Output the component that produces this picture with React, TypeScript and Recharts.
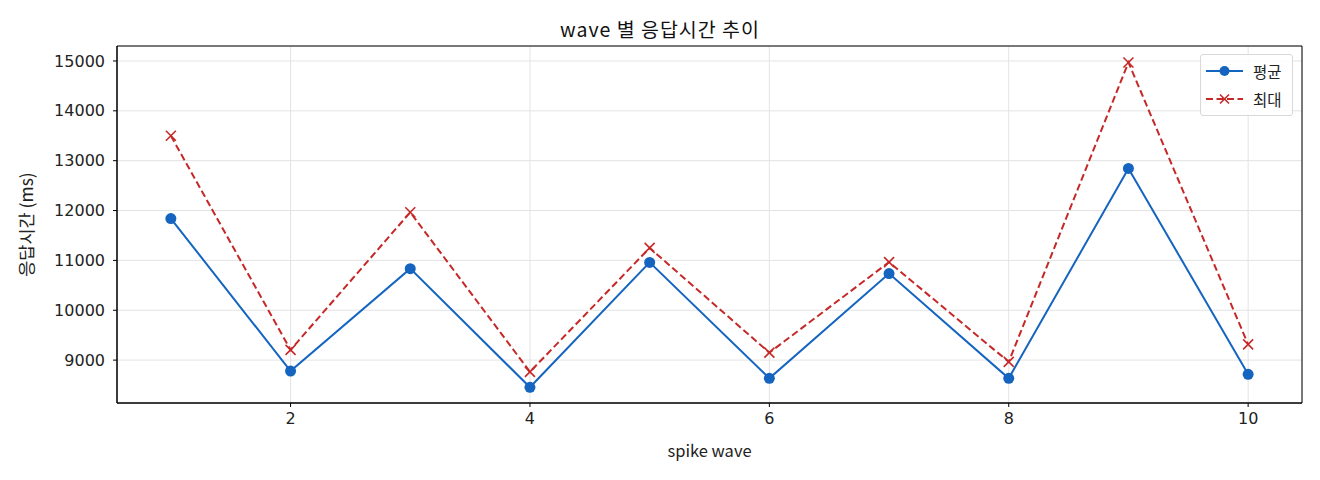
import {
  CartesianGrid,
  Line,
  LineChart,
  ReferenceArea,
  XAxis,
  YAxis,
} from "recharts";

const waves = [1, 2, 3, 4, 5, 6, 7, 8, 9, 10];
const avgMs = [11840, 8780, 10835, 8455, 10960, 8635, 10735, 8635, 12845, 8715];
const maxMs = [13500, 9205, 11965, 8765, 11250, 9150, 10965, 8965, 14970, 9315];
const xTicks = [2, 4, 6, 8, 10];
const yTicks = [9000, 10000, 11000, 12000, 13000, 14000, 15000];

const data = waves.map((w, i) => ({ wave: w, avg: avgMs[i], max: maxMs[i] }));

const FONT = "'Noto Sans CJK KR', 'Noto Sans', sans-serif";
const TICK_FONT = "'DejaVu Sans', 'Noto Sans CJK KR', sans-serif";
const BLUE = "#1565C0";
const RED = "#C62828";

if (typeof document !== "undefined") document.body.style.margin = "0";

const CrossDot = (props: any) => {
  const { cx, cy, key } = props;
  if (cx == null || cy == null) return null;
  const s = 5;
  return (
    <g key={key}>
      <line x1={cx - s} y1={cy - s} x2={cx + s} y2={cy + s} stroke={RED} strokeWidth={1.6} />
      <line x1={cx - s} y1={cy + s} x2={cx + s} y2={cy - s} stroke={RED} strokeWidth={1.6} />
    </g>
  );
};

// legend drawn as an overlay so it doesn't eat into the plot area
const LegendBox = () => (
  <div
    style={{
      position: "absolute",
      left: 1200,
      top: 54,
      width: 93,
      height: 62,
      boxSizing: "border-box",
      border: "1px solid #d8d8d8",
      borderRadius: 3,
      background: "rgba(255,255,255,0.85)",
      paddingTop: 2,
      fontFamily: FONT,
      fontSize: 15.5,
      color: "#222",
    }}
  >
    <div style={{ display: "flex", alignItems: "center", height: 28 }}>
      <svg width={48} height={14} style={{ marginLeft: 4 }}>
        <line x1={1} y1={7} x2={38} y2={7} stroke={BLUE} strokeWidth={2} />
        <circle cx={19.5} cy={7} r={5} fill={BLUE} />
      </svg>
      <span>평균</span>
    </div>
    <div style={{ display: "flex", alignItems: "center", height: 28 }}>
      <svg width={48} height={14} style={{ marginLeft: 4 }}>
        <line x1={1} y1={7} x2={38} y2={7} stroke={RED} strokeWidth={2} strokeDasharray="7 3.5" />
        <line x1={15} y1={2.5} x2={24} y2={11.5} stroke={RED} strokeWidth={1.6} />
        <line x1={15} y1={11.5} x2={24} y2={2.5} stroke={RED} strokeWidth={1.6} />
      </svg>
      <span>최대</span>
    </div>
  </div>
);

export default function App() {
  return (
    <div style={{ position: "relative", width: 1320, height: 480, fontFamily: FONT }}>
      <div
        style={{
          position: "absolute",
          top: 19,
          left: 0,
          width: 1320,
          textAlign: "center",
          fontSize: 19.5,
          letterSpacing: 1,
          lineHeight: "20px",
          color: "#111",
        }}
      >
        wave 별 응답시간 추이
      </div>
      <LineChart
        width={1320}
        height={480}
        data={data}
        margin={{ top: 46, right: 18, left: 0, bottom: 0 }}
      >
        <CartesianGrid stroke="#e3e3e3" strokeWidth={1} />
        <XAxis
          dataKey="wave"
          type="number"
          domain={[0.55, 10.45]}
          ticks={xTicks}
          height={77}
          stroke="#000"
          tickSize={4}
          tickMargin={6}
          tick={{ fill: "#222", fontSize: 16, fontFamily: TICK_FONT }}
          label={{ value: "spike wave", position: "insideTop", offset: 42, fill: "#222", fontSize: 16.5, fontFamily: FONT }}
        />
        <YAxis
          type="number"
          domain={[8140, 15300]}
          ticks={yTicks}
          width={117}
          stroke="#000"
          tickSize={4}
          tickMargin={8}
          allowDataOverflow
          tick={{ fill: "#222", fontSize: 16, fontFamily: TICK_FONT }}
          label={{
            value: "응답시간 (ms)",
            angle: -90,
            position: "insideLeft",
            offset: 27,
            style: { textAnchor: "middle" },
            fill: "#222",
            fontSize: 17.5,
            fontFamily: FONT,
          }}
        />
        <ReferenceArea
          x1={0.55}
          x2={10.45}
          y1={8140}
          y2={15300}
          fill="none"
          stroke="#000"
          strokeWidth={1}
          ifOverflow="visible"
        />
        <Line
          dataKey="avg"
          name="평균"
          type="linear"
          stroke={BLUE}
          strokeWidth={2}
          dot={{ r: 5.5, fill: BLUE, stroke: BLUE, strokeWidth: 0 }}
          isAnimationActive={false}
        />
        <Line
          dataKey="max"
          name="최대"
          type="linear"
          stroke={RED}
          strokeWidth={2}
          strokeDasharray="7 3.5"
          dot={CrossDot}
          isAnimationActive={false}
        />
      </LineChart>
      <LegendBox />
    </div>
  );
}
